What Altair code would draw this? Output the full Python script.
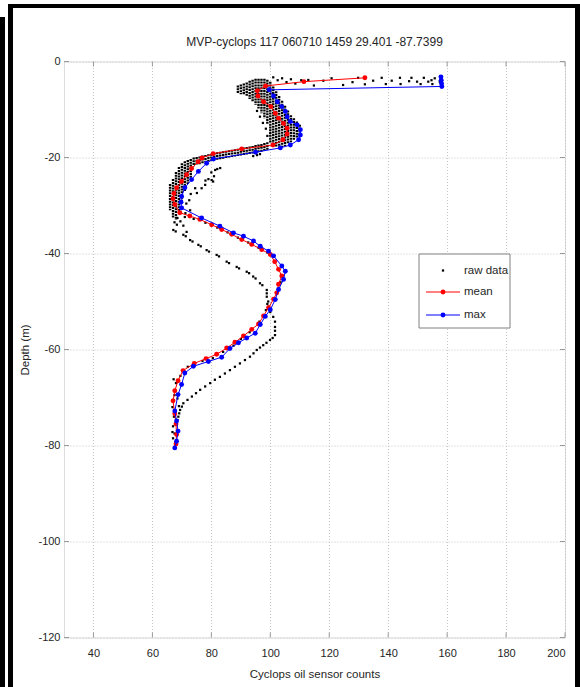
import altair as alt
import pandas as pd

# ---------------- data ----------------
title_text = "MVP-cyclops 117 060710 1459 29.401 -87.7399"
x_title = "Cyclops oil sensor counts"
y_title = "Depth (m)"
x_ticks = [40, 60, 80, 100, 120, 140, 160, 180, 200]
y_ticks = [0, -20, -40, -60, -80, -100, -120]
legend_labels = ["raw data", "mean", "max"]

# mean profile (counts, depth) in cast order
mean_profile = [
    (132.1, -3.4), (111.4, -4.2), (98.4, -5.1), (95.6, -6.1), (95.8, -7.2),
    (97.7, -8.4), (100.2, -9.4), (101.7, -10.8), (102.8, -11.8), (104.5, -12.9),
    (105.7, -13.9), (105.7, -15.1), (104.3, -16.3), (100.9, -17.4), (90.3, -18.2),
    (80.6, -19.2), (76.8, -20.1), (75.5, -20.9), (73.3, -22.3), (71.6, -23.6),
    (69.9, -25.0), (68.2, -26.3), (67.3, -27.5), (67.0, -28.6), (67.6, -29.8),
    (69.3, -31.5), (72.7, -32.2), (76.1, -32.9), (80.1, -34.0), (83.5, -35.0),
    (86.9, -36.0), (90.3, -37.1), (93.7, -38.1), (97.1, -39.2), (100.0, -40.2),
    (101.5, -41.7), (102.8, -43.3), (103.9, -44.7), (102.8, -46.4), (102.2, -48.2),
    (101.1, -49.5), (99.4, -51.3), (97.7, -53.0), (96.0, -54.7), (93.7, -55.8),
    (90.9, -57.2), (88.0, -58.5), (85.2, -59.7), (81.8, -61.0), (78.2, -61.9),
    (74.2, -62.9), (70.4, -64.4), (68.7, -66.5), (67.6, -68.6), (67.0, -70.7),
    (67.6, -73.4), (68.0, -75.5), (68.2, -77.7), (68.0, -79.7),
]

# max profile (counts, depth) in cast order
max_profile = [
    (157.9, -3.2), (158.0, -3.9), (158.1, -4.6), (158.2, -5.2), (99.6, -5.9),
    (101.1, -7.2), (102.4, -8.4), (103.9, -9.4), (105.1, -10.4), (105.7, -11.5),
    (106.8, -12.5), (109.1, -13.2), (110.2, -14.2), (110.2, -15.3), (109.6, -16.3),
    (106.8, -17.4), (103.4, -18.0), (95.0, -18.9), (80.7, -20.3), (78.4, -21.2),
    (75.6, -22.9), (73.3, -24.6), (71.0, -26.3), (69.9, -28.1), (69.7, -29.3),
    (69.9, -30.5), (76.7, -32.6), (82.9, -34.3), (87.5, -35.7), (90.9, -36.4),
    (94.3, -37.4), (96.6, -38.5), (99.4, -39.5), (101.1, -40.5), (103.9, -42.6),
    (105.1, -43.7), (104.5, -45.4), (102.8, -47.5), (101.7, -49.6), (100.0, -51.7),
    (98.3, -53.1), (96.6, -54.8), (94.9, -56.6), (92.0, -57.6), (89.2, -58.6),
    (86.3, -59.8), (83.5, -61.6), (79.0, -62.5), (73.9, -63.5), (71.0, -64.9),
    (69.9, -67.3), (68.7, -69.4), (67.6, -72.8), (68.2, -74.9), (68.7, -77.0),
    (68.2, -79.1), (67.6, -80.5),
]

# raw data: dense vertical stacks of samples (count, top depth, bottom depth)
raw_columns = [
    (89, -5.0, -6.6), (90, -4.8, -6.8), (91, -4.6, -7.0), (92, -4.4, -7.3),
    (93, -4.0, -7.8), (94, -3.8, -8.4), (95, -3.6, -9.0), (96, -3.6, -9.8),
    (97, -3.6, -10.8), (98, -3.6, -11.8), (99, -3.8, -13.0), (100, -4.2, -17.0),
    (101, -5.2, -17.6), (102, -6.2, -17.8), (103, -7.2, -17.8), (104, -8.2, -17.8),
    (105, -9.2, -17.6), (106, -10.2, -17.2), (107, -11.2, -16.8), (108, -11.8, -16.4),
    (109, -12.5, -16.0), (110, -13.2, -15.6),
    (74, -20.0, -21.8), (75, -19.9, -21.6), (76, -19.8, -21.4), (77, -19.6, -21.2),
    (78, -19.5, -21.0), (79, -19.3, -20.8), (80, -19.2, -20.7), (81, -19.0, -20.6),
    (82, -18.9, -20.5), (83, -18.8, -20.4), (84, -18.7, -20.3), (85, -18.6, -20.1),
    (86, -18.5, -20.0), (87, -18.4, -19.9), (88, -18.3, -19.8), (89, -18.2, -19.7),
    (90, -18.0, -19.6), (91, -17.9, -19.5), (92, -17.8, -19.4), (93, -17.7, -19.3),
    (94, -17.6, -19.2), (95, -17.4, -19.0), (96, -17.3, -18.9), (97, -17.2, -18.8),
    (98, -17.0, -18.6), (99, -16.8, -18.4),
    (66, -25.5, -31.0), (67, -24.5, -32.5), (68, -23.0, -33.0), (69, -22.0, -31.5),
    (70, -21.2, -29.0), (71, -20.8, -27.0), (72, -20.5, -25.5), (73, -20.3, -24.5),
]

# raw data: individual scattered samples (count, depth)
raw_points = [
    (112.9, -3.85), (114.8, -5.0), (118.0, -4.0), (120.8, -3.5), (124.7, -4.9),
    (127.9, -4.3), (129.8, -3.4), (132.1, -4.75), (134.9, -4.0), (137.8, -3.4),
    (139.2, -4.7), (141.2, -4.0), (144.0, -3.4), (144.2, -4.7), (147.1, -4.1),
    (147.9, -3.4), (149.8, -4.2), (151.0, -4.7), (152.1, -3.4), (153.6, -4.2),
    (154.7, -3.9), (155.8, -3.5), (155.0, -4.7), (157.5, -4.2),
    (101.0, -3.3), (102.5, -3.9), (104.0, -3.5), (105.5, -4.3), (107.0, -3.7),
    (108.5, -4.6), (110.5, -3.9),
    (95.5, -10.3), (96.5, -11.5), (97.5, -12.8), (98.5, -14.0), (99.0, -15.5),
    (96.5, -19.3), (95.5, -19.5), (94.2, -19.7), (83.0, -22.2), (82.0, -22.4),
    (81.3, -22.6), (80.0, -23.1), (80.9, -23.9), (80.1, -24.7), (79.0, -24.5),
    (78.0, -24.8), (80.6, -25.0), (77.9, -25.7), (76.7, -26.4), (74.5, -26.4),
    (75.1, -27.4), (73.0, -27.6), (72.5, -28.9), (71.5, -29.6), (72.8, -31.0),
    (71.2, -31.6),
    (68.5, -32.6), (69.5, -33.3), (70.5, -34.2), (68.3, -34.0), (67.5, -33.5),
    (71.6, -35.5),
    (67.1, -35.1), (67.9, -35.4), (70.5, -36.1), (71.3, -36.4), (72.8, -37.2),
    (73.6, -37.5), (75.6, -38.2), (76.4, -38.5), (78.4, -39.3), (79.2, -39.6),
    (81.8, -40.3), (82.6, -40.6), (85.2, -41.7), (86.0, -42.0), (88.6, -42.8),
    (89.4, -43.1), (92.0, -43.8), (92.8, -44.1), (94.2, -44.8), (95.0, -45.2),
    (96.5, -46.2), (97.3, -46.6), (98.8, -47.6), (98.8, -48.3), (98.8, -49.0),
    (99.3, -50.0), (99.3, -51.1), (100.0, -52.2), (101.0, -53.2), (101.6, -54.2),
    (101.6, -55.3), (101.6, -56.1), (101.6, -57.0), (100.8, -57.6), (99.9, -58.0),
    (98.7, -58.6), (97.6, -59.1), (96.5, -59.6), (95.4, -60.1), (94.3, -60.8),
    (93.1, -61.5), (91.4, -62.2), (89.7, -62.9), (88.0, -63.6), (86.3, -64.3),
    (84.6, -65.0), (82.9, -65.7), (81.2, -66.3), (79.6, -67.0), (77.9, -67.7),
    (76.2, -68.4), (74.8, -69.1), (73.4, -69.8), (71.9, -70.5), (70.5, -71.2),
    (70.0, -71.9), (69.4, -72.6), (69.1, -73.3), (68.8, -74.0), (68.5, -74.7),
    (71.0, -32.4), (74.0, -32.8), (78.0, -33.6), (82.0, -34.6), (85.5, -35.6),
    (89.0, -36.7), (92.5, -37.7), (96.0, -38.8), (99.0, -39.8), (104.0, -44.6),
    (103.5, -46.0), (99.0, -50.5), (98.5, -51.8), (96.3, -54.2), (93.0, -56.4),
    (90.0, -57.8), (87.5, -59.2), (84.0, -60.5), (80.5, -61.8), (77.0, -62.4),
    (74.0, -63.2), (72.0, -63.6), (69.5, -65.5), (68.0, -67.0), (67.5, -69.5),
    (67.0, -70.5), (66.8, -72.0), (67.3, -74.0), (67.0, -76.0), (67.5, -77.5),
    (67.0, -78.5), (68.0, -79.5), (66.8, -77.2), (67.2, -66.2), (68.5, -70.2),
    (69.0, -71.8),
]

# ---------------- frames ----------------
mean_df = pd.DataFrame(mean_profile, columns=["x", "y"]).reset_index()
max_df = pd.DataFrame(max_profile, columns=["x", "y"]).reset_index()
cols_df = pd.DataFrame(raw_columns, columns=["x", "y", "y2"])
pts_df = pd.DataFrame(raw_points, columns=["x", "y"])
xt_df = pd.DataFrame({"x": x_ticks})
yt_df = pd.DataFrame({"y": y_ticks})
one = pd.DataFrame({"k": [0]})

# ---------------- styling ----------------
W, H = 501, 576
FONT = "Liberation Sans, Arial, sans-serif"
TXT = "#262626"
BOX = "#9a9a9a"

xs = alt.Scale(domain=[30, 200], nice=False, zero=False)
ys = alt.Scale(domain=[-120, 0], nice=False, zero=False)

xaxis = alt.Axis(values=x_ticks, title=x_title, grid=True, gridDash=[1, 2],
                 gridColor="#c4c4c4", gridWidth=1, ticks=False, domain=False,
                 labelFont=FONT, labelFontSize=11, labelColor=TXT, labelPadding=10,
                 labelExpr="'' + datum.value",
                 titleFont=FONT, titleFontSize=11.5, titleFontWeight="normal",
                 titleColor=TXT, titlePadding=10)
yaxis = alt.Axis(values=y_ticks, title=y_title, grid=True, gridDash=[1, 2],
                 gridColor="#c4c4c4", gridWidth=1, ticks=False, domain=False,
                 labelFont=FONT, labelFontSize=11, labelColor=TXT, labelPadding=4,
                 labelExpr="'' + datum.value",
                 titleFont=FONT, titleFontSize=11.5, titleFontWeight="normal",
                 titleColor=TXT, titlePadding=7)

X = alt.X("x:Q", scale=xs, axis=xaxis)
Y = alt.Y("y:Q", scale=ys, axis=yaxis)

# inward ticks on all four sides
xt_bottom = alt.Chart(xt_df).mark_rule(color=BOX).encode(x=X, y=alt.value(H), y2=alt.value(H - 5))
xt_top = alt.Chart(xt_df).mark_rule(color=BOX).encode(x=X, y=alt.value(0), y2=alt.value(5))
yt_left = alt.Chart(yt_df).mark_rule(color=BOX).encode(y=Y, x=alt.value(0), x2=alt.value(5))
yt_right = alt.Chart(yt_df).mark_rule(color=BOX).encode(y=Y, x=alt.value(W - 5), x2=alt.value(W))

raw_cols = alt.Chart(cols_df).mark_rule(color="black", strokeWidth=2.4,
                                         strokeDash=[2, 0.8]).encode(
    x=X, y=Y, y2="y2:Q")
raw_pts = alt.Chart(pts_df).mark_square(color="black", size=5, opacity=1).encode(x=X, y=Y)

mean_line = alt.Chart(mean_df).mark_line(color="#ff0000", strokeWidth=1).encode(
    x=X, y=Y, order="index:Q")
mean_pts = alt.Chart(mean_df).mark_circle(color="#ff0000", size=24, opacity=1).encode(x=X, y=Y)
max_line = alt.Chart(max_df).mark_line(color="#0000ff", strokeWidth=1).encode(
    x=X, y=Y, order="index:Q")
max_pts = alt.Chart(max_df).mark_circle(color="#0000ff", size=24, opacity=1).encode(x=X, y=Y)

# title drawn as text above the plot box
title_mark = alt.Chart(one).mark_text(text=title_text, font=FONT, fontSize=12, color=TXT,
                                      align="center", baseline="middle").encode(
    x=alt.value(W / 2), y=alt.value(-19.5))

# legend (drawn inside the plot like the MATLAB legend)
LX0, LX1, LY0, LY1 = 355, 446, 192.5, 266.5
rows = [209, 230.5, 253.5]
leg = [
    alt.Chart(one).mark_rect(fill="white", stroke="#808080", strokeWidth=1).encode(
        x=alt.value(LX0), x2=alt.value(LX1), y=alt.value(LY0), y2=alt.value(LY1)),
    alt.Chart(one).mark_square(color="black", size=5, opacity=1).encode(
        x=alt.value(379), y=alt.value(rows[0])),
    alt.Chart(one).mark_rule(color="#ff0000", strokeWidth=1).encode(
        x=alt.value(362), x2=alt.value(396), y=alt.value(rows[1])),
    alt.Chart(one).mark_circle(color="#ff0000", size=24, opacity=1).encode(
        x=alt.value(379), y=alt.value(rows[1])),
    alt.Chart(one).mark_rule(color="#0000ff", strokeWidth=1).encode(
        x=alt.value(362), x2=alt.value(396), y=alt.value(rows[2])),
    alt.Chart(one).mark_circle(color="#0000ff", size=24, opacity=1).encode(
        x=alt.value(379), y=alt.value(rows[2])),
]
for lab, ry in zip(legend_labels, rows):
    leg.append(alt.Chart(one).mark_text(text=lab, font=FONT, fontSize=11.5, color=TXT,
                                        align="left", baseline="middle").encode(
        x=alt.value(400), y=alt.value(ry)))

# black page frame
frame = [
    alt.Chart(one).mark_rect(color="black").encode(
        x=alt.value(-64), x2=alt.value(-59), y=alt.value(-44.5), y2=alt.value(626)),
    alt.Chart(one).mark_rect(color="black").encode(
        x=alt.value(-56), x2=alt.value(-51), y=alt.value(-57.5), y2=alt.value(626)),
    alt.Chart(one).mark_rect(color="black").encode(
        x=alt.value(-56), x2=alt.value(516), y=alt.value(-57.5), y2=alt.value(-53.5)),
    alt.Chart(one).mark_rect(color="black").encode(
        x=alt.value(511), x2=alt.value(516), y=alt.value(-57.5), y2=alt.value(626)),
]

chart = alt.layer(
    xt_bottom, xt_top, yt_left, yt_right,
    raw_cols, raw_pts, mean_line, mean_pts, max_line, max_pts,
    title_mark, *leg, *frame,
).properties(
    width=W, height=H,
    padding={"left": 64, "top": 61.5, "right": 15, "bottom": 49.5},
    autosize=alt.AutoSizeParams(type="none"),
).configure_view(stroke=BOX, strokeWidth=1).configure(background="white")

chart.save("out.html", embed_options={"renderer": "svg", "actions": False})
